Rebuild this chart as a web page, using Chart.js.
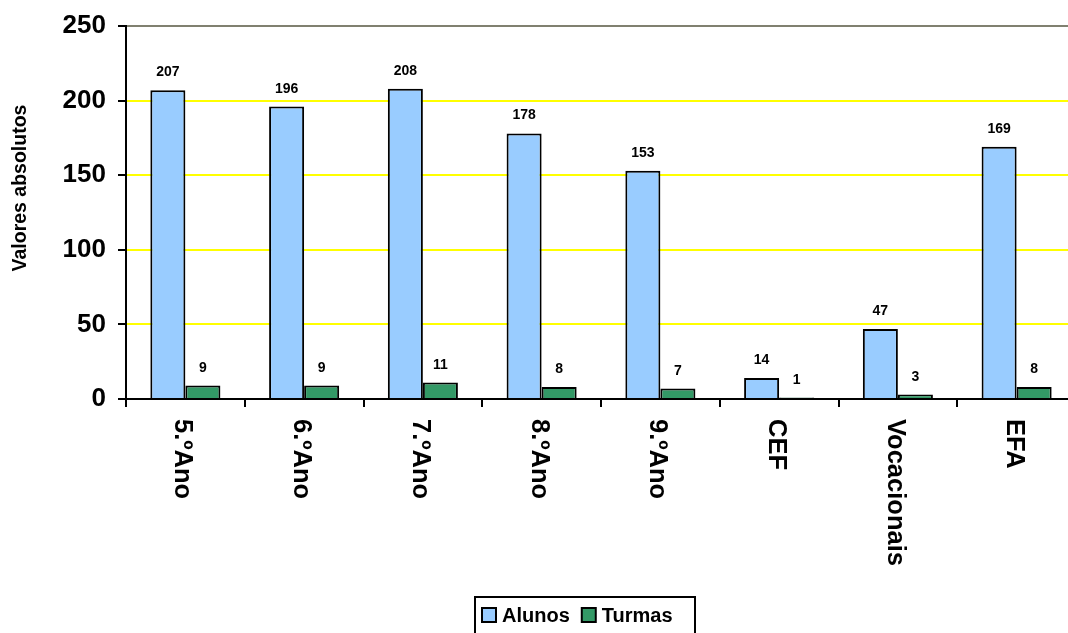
<!DOCTYPE html>
<html>
<head>
<meta charset="utf-8">
<script src="https://cdn.jsdelivr.net/npm/chart.js@4"></script>
<style>
  html, body { margin: 0; padding: 0; overflow: hidden; background: #fff; }
  #wrap { width: 1076px; height: 633px; }
</style>
</head>
<body>
<div id="wrap"><canvas id="alunosChart" width="1076" height="633"></canvas></div>
<script>
////// data //////
const anos = ['5.ºAno', '6.ºAno', '7.ºAno', '8.ºAno', '9.ºAno', 'CEF', 'Vocacionais', 'EFA'];
const alunos = [207, 196, 208, 178, 153, 14, 47, 169];
const turmas = [9, 9, 11, 8, 7, 1, 3, 8];
const yTicks = [0, 50, 100, 150, 200, 250];

const fonte = 'Arial, "Liberation Sans", sans-serif';

////// plugin: rotulos, eixo x, titulo y, legenda //////
const extras = {
    id: 'extras',
    afterDatasetsDraw(chart) {
        const ctx = chart.ctx;
        ctx.save();
        ctx.fillStyle = '#000';
        ctx.font = 'bold 14px ' + fonte;
        ctx.textAlign = 'center';
        ctx.textBaseline = 'alphabetic';
        chart.data.datasets.forEach((ds, d) => {
            chart.getDatasetMeta(d).data.forEach((bar, i) => {
                ctx.fillText(ds.data[i], bar.x, bar.y - 14);
            });
        });
        ctx.restore();
    },
    afterDraw(chart) {
        const ctx = chart.ctx;
        const xs = chart.scales.x;
        ctx.save();
        ctx.fillStyle = '#000';

        // categorias rodadas 90 graus (le-se de cima para baixo)
        ctx.font = 'bold 25.5px ' + fonte;
        ctx.textAlign = 'left';
        ctx.textBaseline = 'middle';
        chart.data.labels.forEach((lab, i) => {
            ctx.save();
            ctx.translate(xs.getPixelForTick(i) - 3, chart.chartArea.bottom + 20);
            ctx.rotate(Math.PI / 2);
            ctx.fillText(lab, 0, 0);
            ctx.restore();
        });

        // titulo do eixo y
        ctx.save();
        ctx.font = 'bold 19.5px ' + fonte;
        ctx.textAlign = 'center';
        ctx.textBaseline = 'middle';
        ctx.translate(21, 188);
        ctx.rotate(-Math.PI / 2);
        ctx.fillText('Valores absolutos', 0, 0);
        ctx.restore();

        // legenda com caixa
        ctx.font = 'bold 20px ' + fonte;
        ctx.textBaseline = 'middle';
        const boxX = 475, boxY = 597, boxW = 220, boxH = 40;
        ctx.strokeStyle = '#000';
        ctx.lineWidth = 2;
        ctx.strokeRect(boxX, boxY, boxW, boxH);
        let cx = 482;
        const cy = 615;
        chart.data.datasets.forEach(ds => {
            ctx.fillStyle = ds.backgroundColor;
            ctx.fillRect(cx, cy - 7, 14, 14);
            ctx.strokeRect(cx, cy - 7, 14, 14);
            ctx.fillStyle = '#000';
            ctx.fillText(ds.label, cx + 20, cy + 1);
            cx += 20 + ctx.measureText(ds.label).width + 12;
        });
        ctx.restore();
    }
};

////// chart //////
const alunosChart = new Chart(document.querySelector('#alunosChart'), {
    type: 'bar',
    data: {
        labels: anos,
        datasets: [{
            label: 'Alunos',
            data: alunos,
            backgroundColor: '#99CCFF',
            borderColor: '#000',
            borderWidth: 2,
            borderSkipped: 'bottom'
        }, {
            label: 'Turmas',
            data: turmas,
            backgroundColor: '#339966',
            borderColor: '#000',
            borderWidth: 2,
            borderSkipped: 'bottom'
        }]
    },
    options: {
        responsive: false,
        animation: false,
        devicePixelRatio: 1,
        categoryPercentage: 0.59,
        barPercentage: 1,
        layout: { padding: { top: 26, left: 0, right: 0, bottom: 0 } },
        plugins: {
            legend: { display: false },
            tooltip: { enabled: false }
        },
        scales: {
            x: {
                grid: {
                    offset: true,
                    drawOnChartArea: false,
                    color: '#000',
                    lineWidth: 2,
                    tickLength: 8
                },
                border: { color: '#000', width: 2 },
                ticks: { display: false },
                afterFit(scale) { scale.height = 234; }
            },
            y: {
                min: 0,
                max: 250,
                afterBuildTicks(scale) { scale.ticks = yTicks.map(v => ({ value: v })); },
                grid: {
                    color: c => c.tick.value === 250 ? '#808070' : (c.tick.value === 0 ? 'rgba(0,0,0,0)' : '#FFFF00'),
                    tickColor: '#000',
                    lineWidth: 2,
                    tickLength: 8
                },
                border: { color: '#000', width: 2 },
                ticks: {
                    color: '#000',
                    padding: 12,
                    font: { family: fonte, size: 26, weight: 'bold' }
                },
                afterFit(scale) {
                    scale.width = 126;
                    scale.paddingTop = 0;
                    scale.paddingBottom = 0;
                }
            }
        }
    },
    plugins: [extras]
});
</script>
</body>
</html>
